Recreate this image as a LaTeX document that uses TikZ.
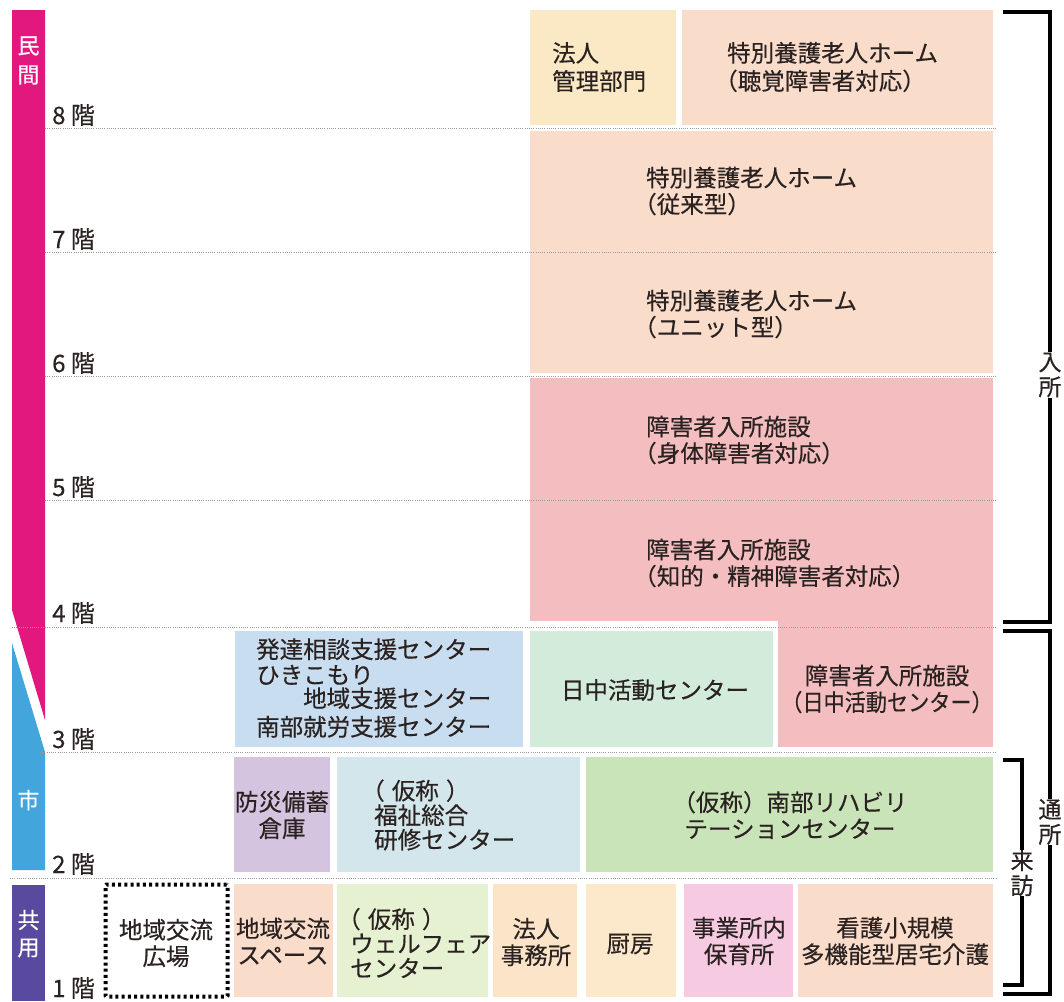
\documentclass[tikz,border=0pt]{standalone}
\usepackage{graphicx}
\usepackage{fontspec}
\setmainfont{Noto Sans CJK JP}[FakeBold=0.35]
\definecolor{ink}{HTML}{2A2220}
\definecolor{cMag}{HTML}{E2187F}
\definecolor{cCity}{HTML}{42A6DD}
\definecolor{cCommon}{HTML}{5A4A9F}
\definecolor{cYel}{HTML}{FBE8C5}
\definecolor{cPeach}{HTML}{FADCCB}
\definecolor{cRose}{HTML}{F4BEC0}
\definecolor{cBlue}{HTML}{C9DDF0}
\definecolor{cMint}{HTML}{D2EBDA}
\definecolor{cLav}{HTML}{D5C4E0}
\definecolor{cIce}{HTML}{D3E6EB}
\definecolor{cGreen}{HTML}{CAE4B9}
\definecolor{cLime}{HTML}{E5F1D0}
\definecolor{cApricot}{HTML}{FCE4C9}
\definecolor{cCream}{HTML}{FCE8CA}
\definecolor{cPink}{HTML}{F6CBE2}
\newcommand\LP{\makebox[0.45em][r]{（}}
\newcommand\RP{\makebox[0.45em][l]{）}}
\newcommand\room[6]{\node[box, fill=#6, minimum width={(#4-#2)*1pt}, minimum height={(#5-#3)*1pt}, anchor=north west] (#1) at (#2,#3) {};}
\begin{document}
\begin{tikzpicture}[x=1pt,y=-1pt,
  box/.style={inner sep=0pt, outer sep=0pt, draw=none},
  txt/.style={font=\fontsize{23.5}{26.5}\selectfont, text=ink, inner sep=0pt, align=left},
  ctxt/.style={txt, align=center},
  three/.style={font=\fontsize{23.5}{24.5}\selectfont},
  flab/.style={font=\fontsize{24}{26}\selectfont, text=ink, inner sep=0pt, anchor=base west},
  bartxt/.style={font=\fontsize{22}{24}\selectfont, text=white, inner sep=0pt},
  brk/.style={font=\fontsize{23}{25}\selectfont, text=ink, inner sep=0pt, align=center},
  floorline/.style={draw=gray!80, line width=1pt, dash pattern=on 1pt off 1.2pt},
  bracket/.style={draw=black, line width=3.5pt, line join=miter, line cap=butt}]
\useasboundingbox (0,0) rectangle (1064,1001);
\fill[white] (0,0) rectangle (1064,1001);

% ---- ownership bars
\fill[cMag] (12,10) -- (45,10) -- (45,720) -- (12,610) -- cycle;
\fill[cCity] (12,643) -- (45,752) -- (45,870) -- (12,870) -- cycle;
\fill[cCommon] (12,885) -- (45,885) -- (45,1001) -- (12,1001) -- cycle;
\node[bartxt] (b1) at (28.5,46) {民};
\node[bartxt] (b2) at (28.5,75) {間};
\node[bartxt] (b3) at (28.5,800) {市};
\node[bartxt] (b4) at (28.5,920) {共};
\node[bartxt] (b5) at (28.5,948) {用};

% ---- 8F
\room{hk}{530}{10}{676}{125}{cYel}
\node[txt, anchor=west, font=\fontsize{23.5}{28}\selectfont] (thk) at (552,67) {法人\\管理部門};
\room{tk8}{682}{10}{993}{125}{cPeach}
\node[txt, anchor=west, font=\fontsize{23.5}{28}\selectfont] (ttk8) at (727,67) {特別養護老人ホーム\\\LP 聴覚障害者対応\RP};
% ---- 7F / 6F
\room{tk7}{530}{131}{993}{252}{cPeach}
\node[txt, anchor=west] (ttk7) at (646,191) {特別養護老人ホーム\\\LP 従来型\RP};
\room{tk6}{530}{252}{993}{373}{cPeach}
\node[txt, anchor=west] (ttk6) at (646,314) {特別養護老人ホーム\\\LP ユニット型\RP};
% ---- 5F / 4F
\room{sg5}{530}{378}{993}{500}{cRose}
\node[txt, anchor=west] (tsg5) at (646,440) {障害者入所施設\\\LP 身体障害者対応\RP};
\room{sg4}{530}{500}{993}{621}{cRose}
\node[txt, anchor=west] (tsg4) at (646,563) {障害者入所施設\\\LP 知的・精神障害者対応\RP};
% ---- 3F
\room{hs}{235}{631}{523}{747}{cBlue}
\node[txt, anchor=west, font=\fontsize{23.5}{25.5}\selectfont] (ths) at (256,688) {発達相談支援センター\\ひきこもり\\[-2pt]\hspace{2em}地域支援センター\\[3pt]南部就労支援センター};
\room{nc}{530}{631}{773}{747}{cMint}
\node[ctxt] (tnc) at (655,690) {日中活動センター};
\room{sg3}{778}{621}{993}{747}{cRose}
\node[ctxt] (tsg3) at (887,689) {障害者入所施設\\\scalebox{0.9}[1]{\LP 日中活動センター\RP}};
% ---- 2F
\room{bs}{234}{757}{330}{872}{cLav}
\node[ctxt] (tbs) at (282,815) {防災備蓄\\倉庫};
\room{fs}{337}{757}{580}{872}{cIce}
\node[txt, three, anchor=west] (tfs) at (374,815) {\LP\hspace{.3em}仮称\hspace{.3em}\RP\\福祉総合\\研修センター};
\room{rh}{586}{757}{993}{872}{cGreen}
\node[ctxt] (trh) at (790,815) {（仮称）南部リハビリ\\テーションセンター};
% ---- 1F
\node[box, draw=black, line width=4pt, dash pattern=on 3pt off 3.2pt, rounded corners=1pt, minimum width=122pt, minimum height=112pt, anchor=north west] (hb) at (105.5,884.5) {};
\node[ctxt] (thb) at (166,943) {地域交流\\広場};
\room{ks}{234}{884}{333}{997}{cPeach}
\node[ctxt] (tks) at (283,941) {地域交流\\スペース};
\room{wf}{337}{884}{488}{997}{cLime}
\node[txt, three, anchor=west] (twf) at (350,943) {\LP\hspace{.3em}仮称\hspace{.3em}\RP\\ウェルフェア\\センター};
\room{jm}{493}{884}{577}{997}{cApricot}
\node[ctxt] (tjm) at (536,942) {法人\\事務所};
\room{cb}{586}{884}{676}{997}{cCream}
\node[ctxt] (tcb) at (630,944) {厨房};
\room{hi}{684}{884}{793}{997}{cPink}
\node[ctxt] (thi) at (739,941) {事業所内\\保育所};
\room{kg}{798}{884}{993}{997}{cPeach}
\node[ctxt] (tkg) at (895,941) {看護小規模\\多機能型居宅介護};

% ---- floor lines
\draw[floorline] (45,128) -- (997,128);
\draw[floorline] (45,252) -- (997,252);
\draw[floorline] (45,376) -- (997,376);
\draw[floorline] (45,500) -- (997,500);
\draw[floorline] (12,627) -- (997,627);
\draw[floorline] (40,752) -- (997,752);
\draw[floorline] (10,878) -- (997,878);

% ---- floor labels
\node[flab] (f8) at (52,124) {8 階};
\node[flab] (f7) at (52,248) {7 階};
\node[flab] (f6) at (52,372) {6 階};
\node[flab] (f5) at (52,496) {5 階};
\node[flab] (f4) at (52,622) {4 階};
\node[flab] (f3) at (52,748) {3 階};
\node[flab] (f2) at (52,873) {2 階};
\node[flab] (f1) at (52,997) {1 階};

% ---- right brackets
\node[brk] (nyu) at (1050,375) {入\\所};
\node[brk] (tsu) at (1050,822) {通\\所};
\node[brk] (rai) at (1022,873) {来\\訪};
\draw[bracket] (1003,12) -- (1050,12) -- (nyu.north);
\draw[bracket] (nyu.south) -- (1050,622) -- (1003,622);
\draw[bracket] (1003,631) -- (1050,631) -- (tsu.north);
\draw[bracket] (tsu.south) -- (1050,994) -- (1003,994);
\draw[bracket] (1003,760) -- (1022,760) -- (rai.north);
\draw[bracket] (rai.south) -- (1022,985) -- (1003,985);
\end{tikzpicture}
\end{document}
